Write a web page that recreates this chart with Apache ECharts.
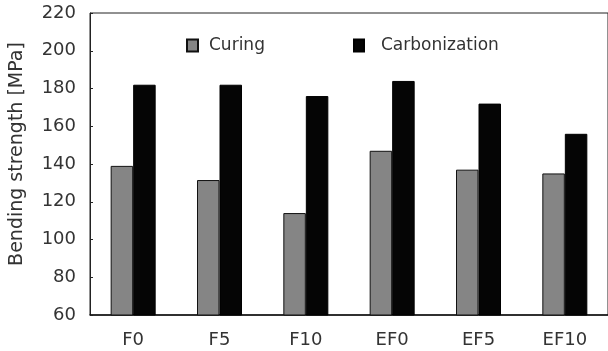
<!DOCTYPE html>
<html>
<head>
<meta charset="utf-8">
<script src="https://cdn.jsdelivr.net/npm/echarts@6/dist/echarts.min.js"></script>
<style>html,body{margin:0;padding:0;background:#fff;}#c{width:608px;height:351px;}</style>
</head>
<body>
<div id="c"></div>
<script>
const categories = ['F0', 'F5', 'F10', 'EF0', 'EF5', 'EF10'];
const curing = [139, 131.5, 114, 147, 137, 135];
const carbonization = [182, 182, 176, 184, 172, 156];
const yTicks = [60, 80, 100, 120, 140, 160, 180, 200, 220];

const chart = echarts.init(document.getElementById('c'), null, {renderer: 'canvas'});
const font = 'DejaVu Sans, sans-serif';
chart.setOption({
  animation: false,
  backgroundColor: '#fff',
  grid: {left: 90, top: 13, bottom: 36, width: 520, show: true, borderColor: '#222', borderWidth: 1, backgroundColor: 'transparent'},
  legend: [
    {data: ['Curing'], left: 186, top: 37, padding: 0, itemWidth: 11, itemHeight: 12, icon: 'rect',
     textStyle: {fontFamily: font, fontSize: 17, color: '#333', padding: [0,0,0,6]}},
    {data: ['Carbonization'], left: 353, top: 37, padding: 0, itemWidth: 10, itemHeight: 12, icon: 'rect',
     textStyle: {fontFamily: font, fontSize: 17, color: '#333', padding: [0,0,0,12]}}
  ],
  xAxis: {
    type: 'category', data: categories,
    axisLine: {show: true, lineStyle: {color: '#111', width: 1.5}},
    axisTick: {show: false},
    axisLabel: {fontFamily: font, fontSize: 18, color: '#333', margin: 16}
  },
  yAxis: {
    type: 'value', min: 60, max: 220, interval: 20,
    name: 'Bending strength [MPa]', nameLocation: 'middle', nameGap: 63,
    nameTextStyle: {fontFamily: font, fontSize: 19, color: '#333', padding: [0, 0, 0, 20]},
    axisLine: {show: true, lineStyle: {color: '#222'}},
    axisTick: {show: true, inside: true, length: 3, lineStyle: {color: '#222'}},
    splitLine: {show: false},
    axisLabel: {fontFamily: font, fontSize: 18, color: '#333', margin: 14,
      formatter: v => yTicks.includes(v) ? String(v) : ''}
  },
  series: [
    {name: 'Curing', type: 'bar', data: curing, barWidth: 22.5, barGap: '0%',
     itemStyle: {color: '#858585', borderColor: '#111', borderWidth: 1}},
    {name: 'Carbonization', type: 'bar', data: carbonization, barWidth: 22.5,
     itemStyle: {color: '#050505', borderColor: '#000', borderWidth: 1}}
  ]
});
</script>
</body>
</html>
